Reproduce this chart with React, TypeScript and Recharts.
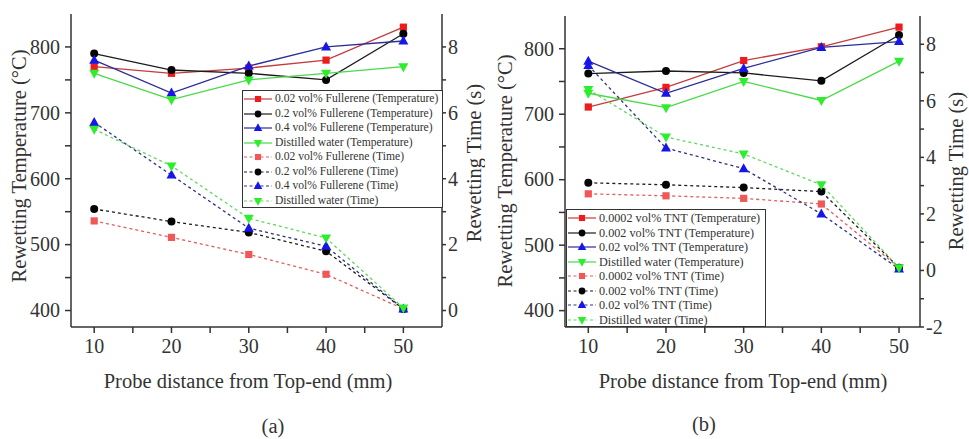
import React from 'react';
import { LineChart, Line, XAxis, YAxis, Legend } from 'recharts';

const FONT = "'Liberation Serif', Tinos, 'Times New Roman', 'DejaVu Serif', 'Noto Serif', serif";
const INK = '#333333';

// Probe positions along the test rod (mm)
const distances = [10, 20, 30, 40, 50];

// Panel (a): fullerene nanofluids
const fullereneLabels = ['0.02 vol% Fullerene', '0.2 vol% Fullerene', '0.4 vol% Fullerene', 'Distilled water'];
const fullereneTemp002 = [770, 760, 768, 780, 830];
const fullereneTemp02 = [790, 765, 760, 750, 820];
const fullereneTemp04 = [780, 730, 771, 800, 809];
const fullereneTempWater = [760, 720, 750, 760, 770];
const fullereneTime002 = [2.72, 2.22, 1.7, 1.1, 0.05];
const fullereneTime02 = [3.08, 2.7, 2.37, 1.8, 0.05];
const fullereneTime04 = [5.71, 4.11, 2.5, 1.95, 0.05];
const fullereneTimeWater = [5.5, 4.39, 2.8, 2.2, 0.08];

// Panel (b): TNT nanofluids
const tntLabels = ['0.0002 vol% TNT', '0.002 vol% TNT', '0.02 vol% TNT', 'Distilled water'];
const tntTemp00002 = [711, 741, 782, 803, 833];
const tntTemp0002 = [762, 766, 763, 751, 821];
const tntTemp002 = [781, 732, 770, 802, 811];
const tntTempWater = [732, 710, 750, 721, 781];
const tntTime00002 = [2.71, 2.64, 2.55, 2.35, 0.1];
const tntTime0002 = [3.1, 3.03, 2.93, 2.79, 0.1];
const tntTime002 = [7.25, 4.33, 3.6, 2.0, 0.05];
const tntTimeWater = [6.4, 4.72, 4.12, 3.03, 0.1];

// Axis ticks (minor ticks carry no label)
const distanceTicks = [10, 15, 20, 25, 30, 35, 40, 45, 50];
const tempTicks = [400, 450, 500, 550, 600, 650, 700, 750, 800];
const fullereneTimeTicks = [0, 1, 2, 3, 4, 5, 6, 7, 8];
const tntTimeTicks = [-2, -1, 0, 1, 2, 3, 4, 5, 6, 7, 8];

type Shape = 'square' | 'circle' | 'up' | 'down';
interface SeriesDef {
  key: string;
  name: string;
  values: number[];
  axis: 'temp' | 'time';
  stroke: string;
  fill: string;
  shape: Shape;
  dashed: boolean;
}

const shapes: Shape[] = ['square', 'circle', 'up', 'down'];
const tempStroke = ['#c43c3c', '#1c1c1c', '#2c2c96', '#47d947'];
const tempFill = ['#ee1d1d', '#050505', '#1616e8', '#2ded2d'];
const timeStroke = ['#e45c5c', '#1c1c1c', '#303080', '#5fd85f'];
const timeFill = ['#f05858', '#050505', '#1616e8', '#2ded2d'];

function buildSeries(prefix: string, labels: string[], temps: number[][], times: number[][]): SeriesDef[] {
  const out: SeriesDef[] = [];
  labels.forEach((label, i) =>
    out.push({
      key: `${prefix}T${i}`,
      name: `${label} (Temperature)`,
      values: temps[i],
      axis: 'temp',
      stroke: tempStroke[i],
      fill: tempFill[i],
      shape: shapes[i],
      dashed: false,
    })
  );
  labels.forEach((label, i) =>
    out.push({
      key: `${prefix}S${i}`,
      name: `${label} (Time)`,
      values: times[i],
      axis: 'time',
      stroke: timeStroke[i],
      fill: timeFill[i],
      shape: shapes[i],
      dashed: true,
    })
  );
  return out;
}

function buildRows(series: SeriesDef[]) {
  return distances.map((d, i) => {
    const row: Record<string, number> = { d };
    series.forEach((s) => {
      row[s.key] = s.values[i];
    });
    return row;
  });
}

function Marker({ shape, cx, cy, fill, scale = 1 }: { shape: Shape; cx?: number; cy?: number; fill: string; scale?: number }) {
  if (cx == null || cy == null) return <g />;
  const k = scale;
  switch (shape) {
    case 'square':
      return <rect x={cx - 3.6 * k} y={cy - 3.6 * k} width={7.2 * k} height={7.2 * k} fill={fill} />;
    case 'circle':
      return <circle cx={cx} cy={cy} r={4 * k} fill={fill} />;
    case 'up':
      return (
        <polygon
          points={`${cx},${cy - 5.5 * k} ${cx - 5 * k},${cy + 3.5 * k} ${cx + 5 * k},${cy + 3.5 * k}`}
          fill={fill}
        />
      );
    default:
      return (
        <polygon
          points={`${cx},${cy + 5.5 * k} ${cx - 5 * k},${cy - 3.5 * k} ${cx + 5 * k},${cy - 3.5 * k}`}
          fill={fill}
        />
      );
  }
}

function LegendBox({ series, fontSize }: { series: SeriesDef[]; fontSize: number }) {
  return (
    <div
      style={{
        border: `1.5px solid ${INK}`,
        background: '#fff',
        boxSizing: 'border-box',
        width: '100%',
        height: '100%',
        paddingTop: 1,
        fontFamily: FONT,
        fontSize,
        color: INK,
        lineHeight: 1,
      }}
    >
      {series.map((s) => (
        <div key={s.key} style={{ display: 'flex', alignItems: 'center', height: 14.5, whiteSpace: 'nowrap' }}>
          <svg width={30} height={12} style={{ flex: 'none' }}>
            <line
              x1={1}
              x2={29}
              y1={6}
              y2={6}
              stroke={s.stroke}
              strokeWidth={1.2}
              strokeDasharray={s.dashed ? '3 2.5' : undefined}
            />
            <Marker shape={s.shape} cx={15} cy={6} fill={s.fill} scale={0.85} />
          </svg>
          <span style={{ marginLeft: 2 }}>{s.name}</span>
        </div>
      ))}
    </div>
  );
}

const axisTick =
  (anchor: 'start' | 'end' | 'middle', showLabel: (v: number) => boolean, isX: boolean) =>
  (props: any) => {
    const { x, y, payload } = props;
    const v = payload.value as number;
    if (!showLabel(v)) return <g />;
    return (
      <text
        x={x}
        y={y}
        dy={isX ? '0.75em' : '0.34em'}
        textAnchor={anchor}
        fill={INK}
        style={{ fontFamily: FONT, fontSize: 20 }}
      >
        {v}
      </text>
    );
  };

interface PanelConfig {
  left: number;
  width: number;
  top: number;
  yLeftWidth: number;
  yRightWidth: number;
  xDomain: [number, number];
  timeDomain: [number, number];
  timeTicks: number[];
  series: SeriesDef[];
  legend: { left: number; top: number; width: number; height: number; fontSize: number };
  tempTitle: { x: number; y: number };
  timeTitle: { x: number; y: number };
  xTitle: { x: number; y: number };
  caption: { text: string; x: number; y: number };
}

const titleStyle = { fontFamily: FONT, fontSize: 20.5 };

function Panel({ cfg }: { cfg: PanelConfig }) {
  const rows = buildRows(cfg.series);
  const xAxisHeight = 439 - 327;
  return (
    <div style={{ position: 'absolute', left: cfg.left, top: 0, width: cfg.width, height: 439 }}>
      <LineChart
        width={cfg.width}
        height={439}
        data={rows}
        margin={{ top: cfg.top, right: 0, bottom: 0, left: 0 }}
        style={{ overflow: 'visible' }}
      >
        <XAxis
          dataKey="d"
          type="number"
          domain={cfg.xDomain}
          ticks={distanceTicks}
          interval={0}
          height={xAxisHeight}
          stroke={INK}
          strokeWidth={1.5}
          tickSize={6}
          tickMargin={5}
          tick={axisTick('middle', (v) => v % 10 === 0, true)}
          label={{
            content: () => (
              <g>
                <text x={cfg.xTitle.x} y={cfg.xTitle.y} textAnchor="middle" fill={INK} style={titleStyle}>
                  Probe distance from Top-end (mm)
                </text>
                <text x={cfg.caption.x} y={cfg.caption.y} textAnchor="middle" fill={INK} style={titleStyle}>
                  {cfg.caption.text}
                </text>
              </g>
            ),
          }}
        />
        <XAxis
          xAxisId="frame"
          orientation="top"
          type="number"
          domain={cfg.xDomain}
          height={0}
          tick={false}
          tickLine={false}
          stroke={INK}
          strokeWidth={1.5}
        />
        <YAxis
          yAxisId="temp"
          type="number"
          domain={[375, 850]}
          ticks={tempTicks}
          interval={0}
          width={cfg.yLeftWidth}
          stroke={INK}
          strokeWidth={1.5}
          tickSize={6}
          tickMargin={5}
          tick={axisTick('end', (v) => v % 100 === 0, false)}
          label={{
            content: () => (
              <text
                x={cfg.tempTitle.x}
                y={cfg.tempTitle.y}
                transform={`rotate(-90, ${cfg.tempTitle.x}, ${cfg.tempTitle.y})`}
                textAnchor="middle"
                dominantBaseline="central"
                fill={INK}
                style={titleStyle}
              >
                Rewetting Temperature (°C)
              </text>
            ),
          }}
        />
        <YAxis
          yAxisId="time"
          orientation="right"
          type="number"
          domain={cfg.timeDomain}
          ticks={cfg.timeTicks}
          interval={0}
          width={cfg.yRightWidth}
          stroke={INK}
          strokeWidth={1.5}
          tickSize={4}
          tickMargin={2}
          tick={axisTick('start', (v) => v % 2 === 0, false)}
          label={{
            content: () => (
              <text
                x={cfg.timeTitle.x}
                y={cfg.timeTitle.y}
                transform={`rotate(-90, ${cfg.timeTitle.x}, ${cfg.timeTitle.y})`}
                textAnchor="middle"
                dominantBaseline="central"
                fill={INK}
                style={titleStyle}
              >
                Rewetting Time (s)
              </text>
            ),
          }}
        />
        <Legend
          layout="vertical"
          align="center"
          verticalAlign="middle"
          wrapperStyle={{
            position: 'absolute',
            left: cfg.legend.left,
            top: cfg.legend.top,
            width: cfg.legend.width,
            height: cfg.legend.height,
            margin: 0,
          }}
          content={() => <LegendBox series={cfg.series} fontSize={cfg.legend.fontSize} />}
        />
        {cfg.series.map((s) => (
          <Line
            key={s.key}
            type="linear"
            dataKey={s.key}
            name={s.name}
            yAxisId={s.axis}
            stroke={s.stroke}
            strokeWidth={1.3}
            strokeDasharray={s.dashed ? '3 3' : undefined}
            dot={(p: any) => <Marker key={`${s.key}-${p.index}`} shape={s.shape} cx={p.cx} cy={p.cy} fill={s.fill} />}
            activeDot={false}
            isAnimationActive={false}
          />
        ))}
      </LineChart>
    </div>
  );
}

const fullereneSeries = buildSeries(
  'f',
  fullereneLabels,
  [fullereneTemp002, fullereneTemp02, fullereneTemp04, fullereneTempWater],
  [fullereneTime002, fullereneTime02, fullereneTime04, fullereneTimeWater]
);

const tntSeries = buildSeries(
  't',
  tntLabels,
  [tntTemp00002, tntTemp0002, tntTemp002, tntTempWater],
  [tntTime00002, tntTime0002, tntTime002, tntTimeWater]
);

const panelA: PanelConfig = {
  left: 0,
  width: 485,
  top: 14,
  yLeftWidth: 71,
  yRightWidth: 43,
  xDomain: [7, 55],
  timeDomain: [-0.5, 9],
  timeTicks: fullereneTimeTicks,
  series: fullereneSeries,
  legend: { left: 242, top: 90, width: 201, height: 118, fontSize: 11.6 },
  tempTitle: { x: 19, y: 166 },
  timeTitle: { x: 474, y: 163 },
  xTitle: { x: 248, y: 388 },
  caption: { text: '(a)', x: 273, y: 433 },
};

const panelB: PanelConfig = {
  left: 485,
  width: 484,
  top: 16,
  yLeftWidth: 80,
  yRightWidth: 49,
  xDomain: [7, 52.7],
  timeDomain: [-2, 9],
  timeTicks: tntTimeTicks,
  series: tntSeries,
  legend: { left: 81, top: 209, width: 200, height: 118, fontSize: 12.2 },
  tempTitle: { x: 20, y: 171 },
  timeTitle: { x: 471, y: 171 },
  xTitle: { x: 258, y: 388 },
  caption: { text: '(b)', x: 219, y: 431 },
};

export default function App() {
  return (
    <div style={{ position: 'absolute', left: 0, top: 0, width: 969, height: 439, background: '#fff', overflow: 'hidden' }}>
      <Panel cfg={panelA} />
      <Panel cfg={panelB} />
    </div>
  );
}
